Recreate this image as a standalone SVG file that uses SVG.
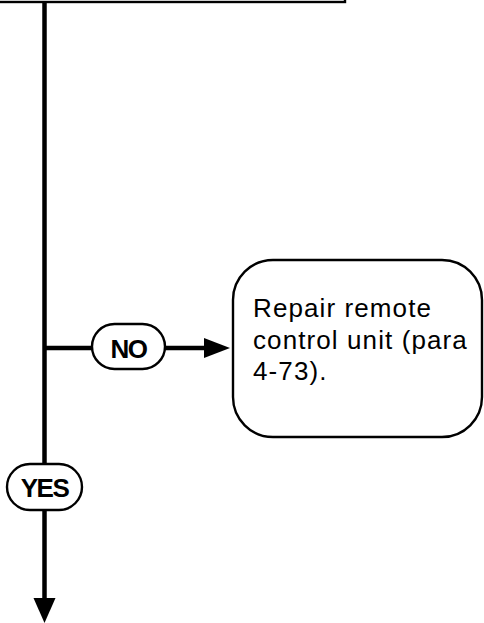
<svg xmlns="http://www.w3.org/2000/svg" width="484" height="623" viewBox="0 0 484 623">
<style>
.flow{stroke:#000;stroke-width:4.5;fill:none}
.head{fill:#000;stroke:none}
.pill{fill:#fff;stroke:#000;stroke-width:2.4}
.box{fill:#fff;stroke:#000;stroke-width:2.4}
.lbl{font-family:"Liberation Sans",Arial,sans-serif;font-weight:bold;font-size:26px;letter-spacing:-1.5px;fill:#000;text-anchor:middle}
.txt{font-family:"Liberation Sans",Arial,sans-serif;font-size:26px;letter-spacing:1.1px;fill:#000}
</style>
<g id="top-box">
<rect x="-10" y="-40" width="355" height="42" class="box" stroke-width="2.6"/>
</g>
<g id="connectors">
<path class="flow" d="M44.5,3 V600"/>
<polygon class="head" points="33.5,598 55.5,598 44.5,623"/>
<path class="flow" d="M44.5,348 H92"/>
<path class="flow" d="M165,348 H206"/>
<polygon class="head" points="204,338 204,358 230,348"/>
</g>
<g id="no-label">
<rect x="92" y="324" width="73" height="45" rx="22.5" class="pill"/>
<text x="128.5" y="357.5" class="lbl">NO</text>
</g>
<g id="yes-label">
<rect x="7" y="464" width="75" height="46" rx="23" class="pill"/>
<text x="44.5" y="496.5" class="lbl">YES</text>
</g>
<g id="repair-box">
<rect x="233" y="260" width="249" height="177" rx="40" ry="40" class="box"/>
<text class="txt"><tspan x="253" y="317">Repair remote</tspan><tspan x="253" y="348.5">control unit (para</tspan><tspan x="253" y="380">4-73).</tspan></text>
</g>
</svg>
